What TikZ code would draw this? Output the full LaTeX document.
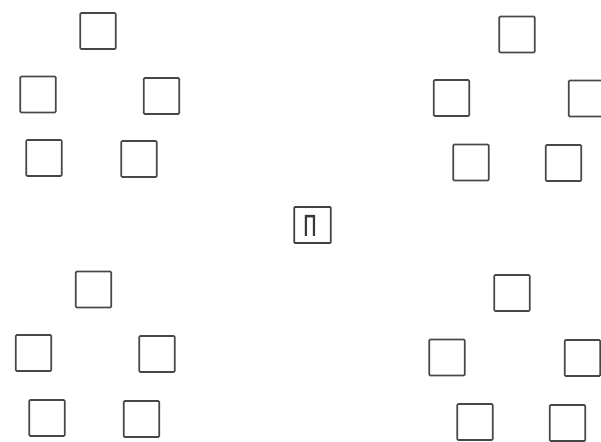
\documentclass[tikz,border=0pt]{standalone}
\usepackage{fontspec}
\newfontfamily\cyr{Liberation Sans}
\begin{document}
\begin{tikzpicture}[x=1pt,y=-1pt,
  sq/.style={draw=black!72, line width=1.7pt, minimum width=35.5pt, minimum height=36pt, inner sep=0pt, rounded corners=1pt},
  csq/.style={draw=black!75, line width=1.7pt, minimum width=36.5pt, minimum height=36pt, inner sep=0pt, rounded corners=0.8pt}]
\clip (0,0) rectangle (601,441);
\fill[white] (0,0) rectangle (601,441);
% top-left group
\node[sq] (a1) at (98,31) {};
\node[sq] (a2) at (38,94.5) {};
\node[sq] (a3) at (161.5,96) {};
\node[sq] (a4) at (44,158) {};
\node[sq] (a5) at (139,159) {};
% top-right group
\node[sq] (b1) at (517,34.5) {};
\node[sq] (b2) at (451.5,98) {};
\node[sq] (b3) at (586.5,98.5) {};
\node[sq] (b4) at (471,162.5) {};
\node[sq] (b5) at (563.5,163) {};
% bottom-left group
\node[sq] (c1) at (93.5,289.5) {};
\node[sq] (c2) at (33.5,353) {};
\node[sq] (c3) at (157,354) {};
\node[sq] (c4) at (47,418) {};
\node[sq] (c5) at (141.5,419) {};
% bottom-right group
\node[sq] (d1) at (512,293) {};
\node[sq] (d2) at (447,357.5) {};
\node[sq] (d3) at (582.5,358) {};
\node[sq] (d4) at (475,422) {};
\node[sq] (d5) at (567.5,423) {};
% centre
\node[csq] (e) at (312.5,225) {};
\node[inner sep=0pt, text=black!78] (p) at (310,226) {\scalebox{0.64}[1]{\cyr\fontsize{40}{40}\selectfont п}};
\end{tikzpicture}
\end{document}
